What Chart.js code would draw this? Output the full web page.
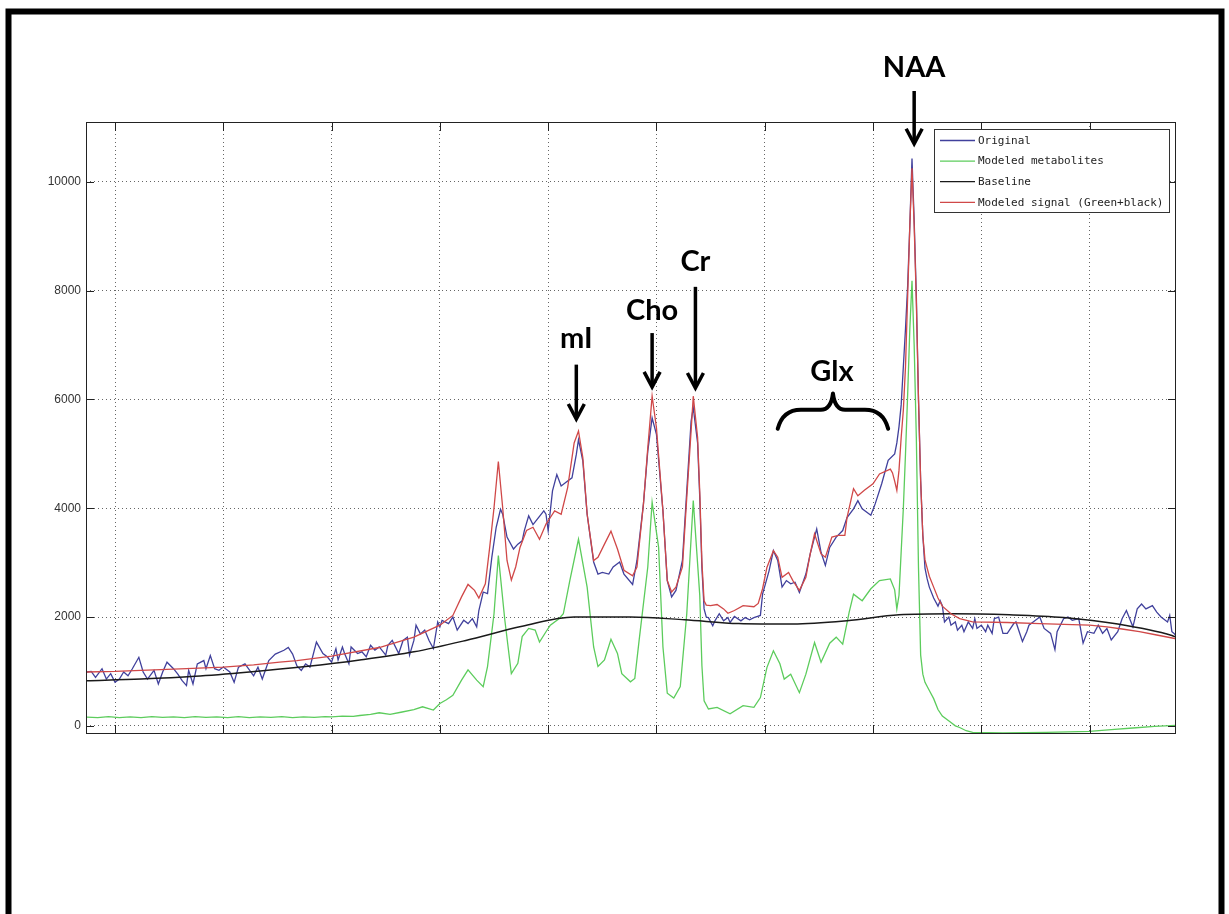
<!DOCTYPE html>
<html>
<head>
<meta charset="utf-8">
<script src="https://cdn.jsdelivr.net/npm/chart.js@4.4.0/dist/chart.umd.min.js"></script>
<style>
html,body{margin:0;padding:0;background:#fff;overflow:hidden}
canvas{display:block}
</style>
</head>
<body>
<canvas id="c" width="1229" height="914"></canvas>
<script>
// ---- data (x = spectral sample index, y = signal amplitude) ----
const seriesNames = ['Original', 'Modeled metabolites', 'Baseline', 'Modeled signal (Green+black)'];

const original = [
[37,990],[39,1000],[41,890],[44,1050],[46,860],[48,960],[50,800],[52,860],[54,990],[56,920],[58,1050],[61,1260],[63,990],[65,860],[68,1020],[70,770],[72,990],[74,1170],[77,1050],[79,950],[81,830],[83,740],[84,1020],[86,770],[88,1140],[91,1200],[92,1050],[94,1290],[96,1050],[98,1020],[100,1080],[103,990],[105,800],[107,1080],[110,1140],[114,920],[116,1080],[118,860],[121,1200],[124,1320],[128,1390],[130,1440],[132,1320],[134,1100],[136,1020],[138,1140],[140,1080],[143,1540],[146,1330],[148,1270],[150,1170],[152,1420],[153,1210],[155,1450],[156,1330],[158,1140],[159,1450],[162,1330],[164,1360],[166,1270],[168,1480],[170,1390],[172,1450],[175,1300],[176,1480],[178,1570],[181,1330],[183,1570],[185,1630],[186,1300],[188,1570],[189,1850],[191,1690],[193,1760],[195,1570],[197,1420],[199,1910],[200,1820],[201,1940],[204,1880],[206,2000],[208,1760],[211,1940],[213,1880],[215,1970],[217,1820],[218,2120],[220,2460],[222,2430],[224,3100],[226,3650],[228,3980],[229,3890],[231,3470],[234,3250],[236,3340],[238,3400],[239,3590],[241,3860],[243,3700],[245,3800],[248,3950],[249,3890],[250,3590],[252,4320],[254,4620],[256,4410],[259,4500],[261,4560],[263,4990],[264,5260],[266,4870],[268,3890],[271,3010],[273,2790],[275,2820],[278,2790],[280,2920],[283,3010],[285,2790],[289,2600],[291,3040],[294,4080],[296,5050],[298,5660],[300,5360],[303,3950],[305,2670],[307,2370],[309,2490],[312,3040],[314,4320],[316,5600],[317,5850],[319,5200],[320,4200],[321,2900],[322,2150],[323,2000],[324,1990],[326,1840],[327,1930],[329,2060],[331,1930],[333,1990],[334,1900],[336,2010],[339,1930],[341,1990],[343,1950],[345,1990],[348,2030],[349,2420],[352,2850],[354,3220],[356,3040],[358,2550],[360,2670],[362,2610],[364,2640],[366,2450],[369,2790],[371,3160],[374,3620],[376,3190],[378,2950],[380,3280],[383,3470],[386,3590],[388,3830],[391,3990],[393,4140],[395,3990],[399,3870],[401,4080],[404,4450],[407,4880],[410,5000],[411,5200],[412,5500],[413,5900],[414,6600],[415,7300],[416,8100],[417,9200],[418,10430],[419,9300],[420,7900],[421,6000],[422,4500],[423,3500],[424,2900],[425,2700],[426,2550],[428,2350],[430,2200],[431,2300],[432,2210],[433,1910],[435,2000],[436,1850],[438,1910],[439,1760],[441,1850],[442,1730],[444,1910],[446,1790],[447,1970],[448,1790],[450,1850],[452,1730],[453,1850],[455,1700],[456,1970],[458,2000],[460,1700],[462,1700],[465,1880],[466,1910],[469,1550],[471,1730],[472,1850],[475,1940],[477,2000],[479,1790],[482,1700],[484,1400],[485,1730],[488,1970],[490,2000],[492,1940],[495,1970],[497,1520],[499,1730],[502,1700],[504,1850],[506,1700],[508,1790],[510,1580],[513,1730],[515,1970],[517,2120],[520,1820],[522,2150],[524,2240],[526,2150],[529,2210],[531,2090],[533,2000],[536,1910],[537,2030],[538,1730],[539,1700],[540,1650]
];

const metabolites = [
[37,160],[42,150],[47,170],[52,150],[57,165],[62,150],[67,170],[72,155],[77,165],[82,150],[87,170],[92,155],[97,165],[102,150],[107,170],[112,150],[117,165],[122,155],[127,170],[132,150],[137,165],[142,155],[147,170],[150,165],[155,180],[160,175],[163,190],[168,210],[172,240],[177,210],[182,250],[188,300],[192,350],[197,290],[200,410],[203,480],[206,560],[210,840],[213,1030],[217,840],[220,720],[222,1090],[225,2060],[227,3130],[230,1940],[233,960],[236,1150],[238,1640],[241,1790],[244,1760],[246,1540],[249,1730],[251,1850],[255,1970],[257,2060],[260,2670],[264,3430],[268,2550],[271,1450],[273,1090],[276,1210],[279,1590],[282,1330],[284,960],[288,810],[290,870],[292,1570],[296,2920],[298,4110],[301,3280],[303,1450],[305,600],[308,510],[311,720],[314,2060],[317,4140],[320,2400],[321,1100],[322,460],[324,310],[328,340],[334,220],[340,370],[345,340],[348,520],[351,1070],[354,1380],[357,1140],[359,860],[362,950],[366,610],[369,950],[373,1530],[376,1170],[380,1520],[383,1630],[386,1500],[389,2090],[391,2420],[395,2300],[399,2520],[403,2670],[408,2700],[410,2500],[411,2150],[412,2400],[413,3200],[414,4000],[415,5000],[416,6100],[417,7300],[418,8180],[419,7000],[420,5300],[421,2900],[422,1300],[423,950],[424,800],[426,650],[428,500],[430,300],[432,180],[434,120],[436,60],[438,0],[440,-30],[443,-90],[446,-120],[460,-130],[480,-120],[500,-100],[510,-70],[520,-40],[530,-10],[540,10]
];

const baseline = [
[37,830],[62,860],[87,910],[112,990],[138,1090],[163,1210],[188,1360],[212,1570],[238,1830],[262,2000],[288,2000],[313,1950],[338,1880],[363,1870],[388,1930],[412,2040],[437,2060],[463,2040],[488,1990],[513,1870],[538,1660],[540,1630]
];

const modeledSignal = [
[37,990],[50,1000],[68,1030],[83,1050],[100,1080],[114,1120],[126,1170],[134,1200],[150,1280],[172,1440],[188,1630],[200,1850],[206,2030],[210,2370],[213,2600],[216,2490],[218,2350],[221,2610],[223,3280],[225,4010],[227,4860],[229,4010],[231,3040],[233,2680],[235,2920],[237,3280],[240,3590],[243,3650],[246,3430],[249,3710],[251,3830],[253,3950],[256,3890],[259,4380],[262,5200],[264,5420],[266,4930],[268,3890],[271,3040],[273,3100],[276,3340],[279,3580],[282,3250],[285,2860],[289,2760],[291,2920],[294,4080],[296,5110],[298,6060],[300,5480],[303,3950],[305,2670],[307,2460],[309,2550],[312,2920],[314,4200],[316,5420],[317,6060],[319,5300],[320,4300],[321,3000],[322,2300],[323,2220],[325,2210],[328,2230],[331,2150],[333,2070],[336,2120],[340,2210],[345,2190],[347,2250],[349,2520],[351,2910],[354,3220],[356,3100],[358,2730],[361,2820],[363,2670],[366,2490],[369,2730],[371,3160],[373,3530],[376,3160],[378,3100],[381,3470],[384,3500],[387,3500],[388,3830],[391,4360],[393,4230],[396,4330],[400,4450],[403,4630],[408,4720],[409,4650],[410,4500],[411,4330],[412,4700],[413,5300],[414,5800],[415,6600],[416,7900],[417,9200],[418,10250],[419,9200],[420,7800],[421,6000],[422,4500],[423,3500],[424,3050],[425,2900],[426,2750],[428,2550],[430,2350],[432,2200],[436,2060],[440,1970],[446,1910],[462,1900],[477,1880],[492,1860],[500,1850],[508,1820],[515,1780],[523,1730],[531,1670],[540,1600]
];

const yTickValues = [0, 2000, 4000, 6000, 8000, 10000];
const xGridValues = [50, 100, 150, 200, 250, 300, 350, 400, 450, 500];

// peak annotations (data coordinates)
const peakNames   = ['NAA', 'Cr', 'Cho', 'mI'];
const peakX       = [419, 318, 298, 263];
const peakLabelY  = [11930, 8360, 7460, 6950];
const arrowStartY = [11670, 8070, 7220, 6640];
const arrowTipY   = [10700, 6210, 6230, 5640];

const glxName = 'Glx';
const glxX = [356, 381.5, 407];          // brace left end, centre, right end
const glxY = [5460, 5810, 6110, 6330];   // brace ends, brace bar, brace cusp, label baseline

// ---- chart ----
const colors = ['#40409c', '#5ccc5c', '#1a1a1a', '#d04848'];
const seriesData = [original, metabolites, baseline, modeledSignal];

function toPoints(arr) { return arr.map(p => ({x: p[0], y: p[1]})); }

const decor = {
  id: 'decor',
  beforeDraw(chart) {
    const ctx = chart.ctx;
    ctx.save();
    ctx.fillStyle = '#ffffff';
    ctx.fillRect(0, 0, chart.width, chart.height);
    ctx.restore();
  },
  afterDraw(chart) {
    const {ctx, chartArea: a, scales: {x, y}} = chart;
    ctx.save();
    // plot box
    ctx.strokeStyle = '#222';
    ctx.lineWidth = 1;
    ctx.setLineDash([]);
    ctx.strokeRect(a.left + 0.5, a.top + 0.5, a.right - a.left - 1, a.bottom - a.top - 1);
    // inward tick marks
    ctx.beginPath();
    y.ticks.forEach(t => {
      const py = Math.round(y.getPixelForValue(t.value)) + 0.5;
      ctx.moveTo(a.left, py); ctx.lineTo(a.left + 8, py);
      ctx.moveTo(a.right - 8, py); ctx.lineTo(a.right, py);
    });
    x.ticks.forEach(t => {
      const px = Math.round(x.getPixelForValue(t.value)) + 0.5;
      ctx.moveTo(px, a.bottom); ctx.lineTo(px, a.bottom - 9);
      ctx.moveTo(px, a.top); ctx.lineTo(px, a.top + 9);
    });
    ctx.stroke();

    // legend box
    const lw = 235, lh = 83;
    const lx = a.right - 7 - lw, ly = a.top + 7;
    ctx.fillStyle = '#fff';
    ctx.fillRect(lx, ly, lw, lh);
    ctx.strokeStyle = '#333';
    ctx.strokeRect(Math.round(lx) + 0.5, Math.round(ly) + 0.5, lw, lh);
    ctx.font = "11px 'DejaVu Sans Mono'";
    ctx.textBaseline = 'middle';
    ctx.textAlign = 'left';
    chart.data.datasets.forEach((ds, i) => {
      const ry = ly + 11.5 + 20.6 * i;
      ctx.strokeStyle = ds.borderColor;
      ctx.lineWidth = 1.3;
      ctx.beginPath();
      ctx.moveTo(lx + 6, ry); ctx.lineTo(lx + 41, ry);
      ctx.stroke();
      ctx.fillStyle = '#222';
      ctx.fillText(ds.label, lx + 44, ry + 0.5);
    });

    // peak annotations
    ctx.fillStyle = '#000';
    ctx.strokeStyle = '#000';
    ctx.font = "bold 29px Lato, 'Noto Sans', sans-serif";
    ctx.textAlign = 'center';
    ctx.textBaseline = 'alphabetic';
    peakNames.forEach((name, i) => {
      const px = x.getPixelForValue(peakX[i]);
      ctx.fillText(name, px, y.getPixelForValue(peakLabelY[i]));
      const top = y.getPixelForValue(arrowStartY[i]);
      const tip = y.getPixelForValue(arrowTipY[i]);
      ctx.lineWidth = 3.5;
      ctx.lineCap = 'butt';
      ctx.beginPath();
      ctx.moveTo(px, top); ctx.lineTo(px, tip - 2);
      ctx.stroke();
      ctx.lineJoin = 'miter';
      ctx.beginPath();
      ctx.moveTo(px - 8, tip - 15); ctx.lineTo(px, tip); ctx.lineTo(px + 8, tip - 15);
      ctx.stroke();
    });

    // Glx brace
    const X0 = x.getPixelForValue(glxX[0]), XM = x.getPixelForValue(glxX[1]), X1 = x.getPixelForValue(glxX[2]);
    const YE = y.getPixelForValue(glxY[0]), YH = y.getPixelForValue(glxY[1]), YP = y.getPixelForValue(glxY[2]);
    ctx.fillText(glxName, XM - 1, y.getPixelForValue(glxY[3]));
    ctx.lineWidth = 4;
    ctx.lineCap = 'round';
    ctx.lineJoin = 'round';
    ctx.beginPath();
    ctx.moveTo(X0, YE);
    ctx.quadraticCurveTo(X0 + 5, YH, X0 + 0.42 * (XM - X0), YH);
    ctx.lineTo(XM - 0.22 * (XM - X0), YH);
    ctx.quadraticCurveTo(XM - 2, YH, XM, YP);
    ctx.moveTo(X1, YE);
    ctx.quadraticCurveTo(X1 - 5, YH, X1 - 0.42 * (X1 - XM), YH);
    ctx.lineTo(XM + 0.22 * (X1 - XM), YH);
    ctx.quadraticCurveTo(XM + 2, YH, XM, YP);
    ctx.stroke();

    // outer picture frame
    ctx.lineWidth = 6;
    ctx.lineJoin = 'miter';
    ctx.lineCap = 'butt';
    ctx.beginPath();
    ctx.moveTo(8.5, 940);
    ctx.lineTo(8.5, 11.5);
    ctx.lineTo(1221.5, 11.5);
    ctx.lineTo(1221.5, 940);
    ctx.stroke();
    ctx.restore();
  }
};

const orders = [3, 2, 1, 0];
const widths = [1.3, 1.3, 1.5, 1.3];

new Chart(document.getElementById('c'), {
  type: 'line',
  data: {
    datasets: seriesData.map((arr, i) => ({
      label: seriesNames[i],
      data: toPoints(arr),
      borderColor: colors[i],
      backgroundColor: colors[i],
      borderWidth: widths[i],
      pointRadius: 0,
      fill: false,
      tension: 0,
      cubicInterpolationMode: i === 2 ? 'monotone' : 'default',
      order: orders[i]
    }))
  },
  options: {
    responsive: false,
    animation: false,
    devicePixelRatio: 1,
    layout: { padding: { left: 0, top: 122, right: 53, bottom: 180 } },
    plugins: { legend: { display: false }, tooltip: { enabled: false } },
    events: [],
    scales: {
      x: {
        type: 'linear',
        min: 36.6,
        max: 539.9,
        afterBuildTicks: s => { s.ticks = xGridValues.map(v => ({ value: v })); },
        afterFit: s => { s.height = 0; },
        ticks: { display: false },
        grid: { color: 'rgba(0,0,0,0.6)', lineWidth: 1, drawTicks: false },
        border: { display: false, dash: [1, 3] }
      },
      y: {
        type: 'linear',
        min: -150,
        max: 11100,
        afterBuildTicks: s => { s.ticks = yTickValues.map(v => ({ value: v })); },
        afterFit: s => { s.width = 86; },
        ticks: {
          color: '#333',
          padding: 5,
          font: { family: "'Liberation Sans', Arial, sans-serif", size: 12 },
          callback: v => String(v)
        },
        grid: { color: 'rgba(0,0,0,0.6)', lineWidth: 1, drawTicks: false },
        border: { display: false, dash: [1, 3] }
      }
    }
  },
  plugins: [decor]
});
</script>
</body>
</html>
